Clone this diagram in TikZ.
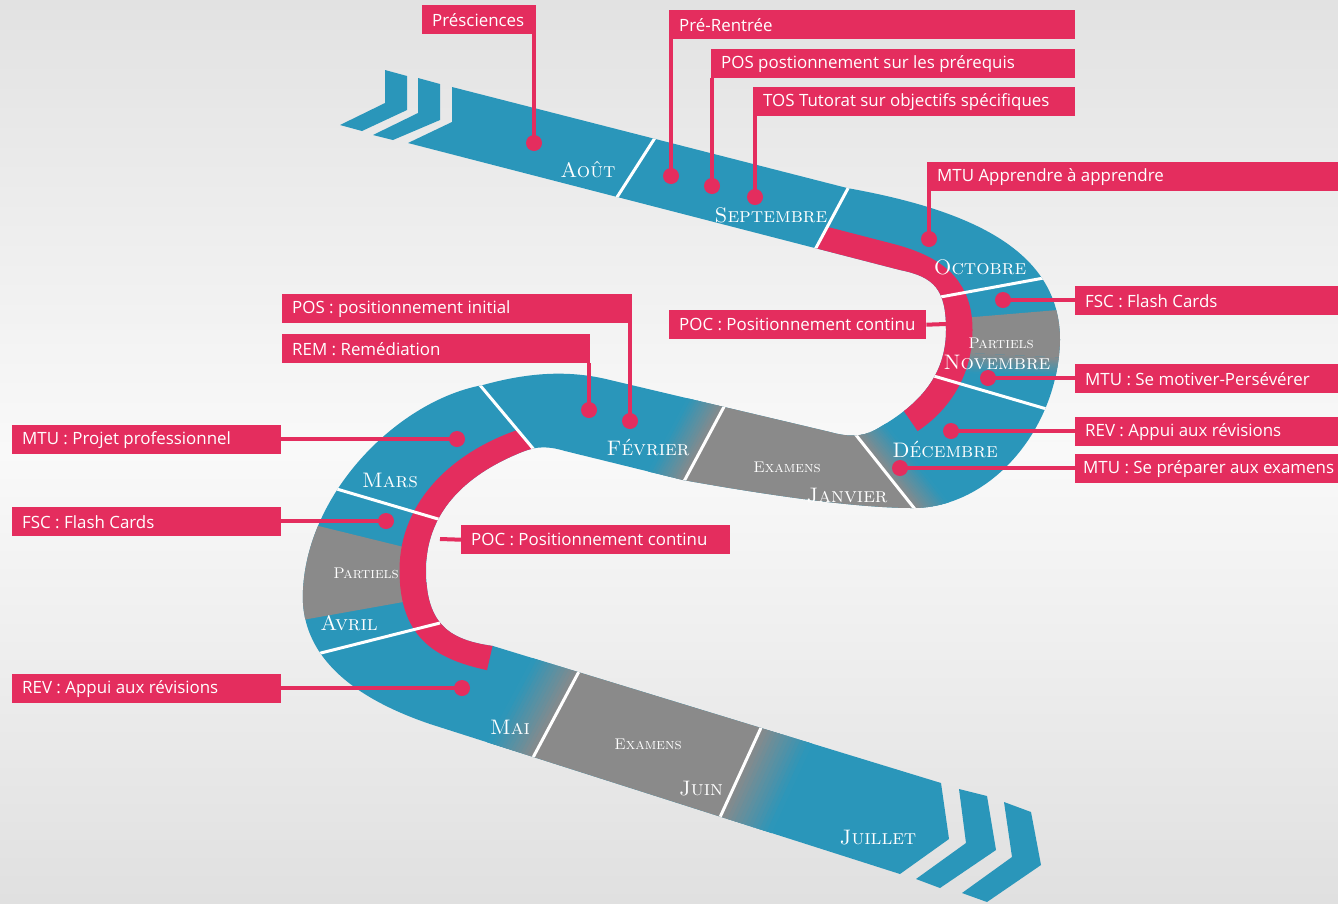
\documentclass[tikz,border=0pt]{standalone}
\usepackage{fontspec}
\newfontfamily\labelfont{Open Sans}
\definecolor{bluec}{RGB}{42,150,186}
\definecolor{pinkc}{RGB}{228,45,94}
\definecolor{greyc}{RGB}{138,138,138}
\definecolor{bgtop}{RGB}{226,226,226}
\definecolor{bgmid}{RGB}{249,249,249}
\definecolor{bgbot}{RGB}{224,224,224}
\newcommand\lbltext[2]{\makebox[#1pt][l]{#2}}
\newcommand\fadestrip[6]{%
  \foreach \i in {0,...,13}{%
    \pgfmathsetmacro\fa{\i/14}%
    \pgfmathsetmacro\fb{(\i+1.4)/14}%
    \pgfmathtruncatemacro\fc{100-(\i+0.5)*100/14}%
    \fill[greyc!\fc!bluec] ({#1+\fa*(#5)},{#2+\fa*(#6)}) -- ({#3+\fa*(#5)},{#4+\fa*(#6)}) -- ({#3+\fb*(#5)},{#4+\fb*(#6)}) -- ({#1+\fb*(#5)},{#2+\fb*(#6)}) -- cycle;
  }}
\def\roadpath{(452,87) -- (847,188) .. controls (970,210) and (1060,250) .. (1060,340) .. controls (1058,430) and (990,508) .. (913,508) .. controls (850,508) and (750,492) .. (683,480) -- (565,451) .. controls (548,446) and (537,446) .. (522,452) .. controls (462,476) and (426,515) .. (426,570) .. controls (426,625) and (450,640) .. (493,646) -- (941,783) -- (949,839) -- (900,874) -- (430,724) .. controls (330,690) and (300,640) .. (303,590) .. controls (308,490) and (400,400) .. (483,385) .. controls (530,372) and (570,370) .. (610,380) -- (830,432) .. controls (848,437) and (862,437) .. (875,430) .. controls (920,405) and (946,375) .. (946,330) .. controls (946,290) and (935,277) .. (900,270) -- (408,143) -- (452,122) -- cycle}
\begin{document}
\begin{tikzpicture}[x=1pt,y=-1pt,
  lbl/.style={fill=pinkc, text=white, font=\labelfont\fontsize{16.9}{19}\selectfont, anchor=north west, minimum height=29pt, inner xsep=10pt, inner ysep=0pt},
  conn/.style={pinkc, line width=4pt},
  pdot/.style={circle, fill=pinkc, minimum size=16pt, inner sep=0pt},
  mlabel/.style={text=white, font=\fontsize{21}{21}\selectfont\scshape, inner sep=0pt},
  slabel/.style={text=white, font=\fontsize{15.5}{15.5}\selectfont\scshape, inner sep=0pt},
  sepline/.style={white, line width=3pt},
  pinkband/.style={pinkc, line width=27pt}]
\useasboundingbox (0,0) rectangle (1338,903);
\shade[top color=bgtop, bottom color=bgbot, middle color=bgmid] (0,0) rectangle (1338,903);

% chevrons
\fill[bluec] (385,70) -- (407,76) -- (407,110) -- (362,131) -- (340,125) -- (385,103) -- cycle;
\fill[bluec] (418,78) -- (440,84) -- (440,120) -- (393,140) -- (373,135) -- (418,113) -- cycle;
\fill[bluec] (959,789) -- (987,796) -- (996,850) -- (940,888) -- (916,879) -- (966,843) -- cycle;
\fill[bluec] (1004,802) -- (1031,812) -- (1041,865) -- (987,902) -- (962,893) -- (1012,857) -- cycle;

% road
\fill[bluec] \roadpath;
\begin{scope}
  \clip \roadpath;
  % grey exam areas
  \fill[greyc] (726,403) -- (852,430) -- (918,513) -- (681,487) -- cycle;
  \fadestrip{726}{403}{681}{487}{-36}{-8}
  \fadestrip{852}{430}{918}{513}{32}{-8}
  \fill[greyc] (583,664) -- (765,719) -- (716,826) -- (529,765) -- cycle;
  \fadestrip{583}{664}{529}{765}{-45}{-14}
  \fadestrip{765}{719}{716}{826}{50}{16}
  \fill[greyc] (950,319) -- (1070,309) -- (1070,358) -- (950,352) -- cycle;
  \fadestrip{950}{352}{1070}{358}{0}{20}
  \fill[greyc] (290,519) -- (420,551) -- (420,599) -- (280,624) -- cycle;
  % pink bands
  \begin{scope}
    \clip (860,165) -- (1100,165) -- (1100,600) -- (800,600) -- (800,278) -- cycle;
    \draw[pinkband] (805,235) -- (890,257) .. controls (940,270) and (959,292) .. (959,330) .. controls (959,372) and (937,402) .. (910,420);
  \end{scope}
  \begin{scope}
    \clip (450,349) -- (570,493) -- (570,700) -- (200,700) -- (200,349) -- cycle;
    \draw[pinkband] (545,435) -- (527,441) .. controls (462,462) and (413,508) .. (413,570) .. controls (413,628) and (440,646) .. (490,657);
  \end{scope}
  % separators
  \draw[sepline] (660,130) -- (612,205);
  \draw[sepline] (853,179) -- (810,259);
  \draw[sepline] (935,298) -- (1060,275);
  \draw[sepline] (920,372) -- (1050,410);
  \draw[sepline] (726,403) -- (681,487);
  \draw[sepline] (852,430) -- (918,513);
  \draw[sepline] (474,378) -- (541,458);
  \draw[sepline] (330,487) -- (455,524);
  \draw[sepline] (305,657) -- (440,623);
  \draw[sepline] (583,664) -- (529,765);
  \draw[sepline] (765,719) -- (716,826);
\end{scope}

% month labels
\node[mlabel] (aout) at (588,170) {Août};
\node[mlabel] (sept) at (771,215) {Septembre};
\node[mlabel] (oct) at (980,267) {Octobre};
\node[slabel] (partR) at (1001,343) {Partiels};
\node[mlabel] (nov) at (997,362) {Novembre};
\node[mlabel] (dec) at (945,449) {Décembre};
\node[slabel] (examM) at (787,467) {Examens};
\node[mlabel] (janv) at (847,496) {Janvier};
\node[mlabel] (fev) at (648,447) {Février};
\node[mlabel] (mars) at (390,480) {Mars};
\node[slabel] (partL) at (366,573) {Partiels};
\node[mlabel] (avril) at (349,623) {Avril};
\node[mlabel] (mai) at (510,727) {Mai};
\node[slabel] (examB) at (648,744) {Examens};
\node[mlabel] (juin) at (701,789) {Juin};
\node[mlabel] (juil) at (878,838) {Juillet};

% label boxes
\node[lbl] (presc) at (422,5) {\lbltext{94}{Présciences}};
\node[lbl] (prerent) at (669,10) {\lbltext{386}{Pré-Rentrée}};
\node[lbl] (posprq) at (711,49) {\lbltext{344}{POS postionnement sur les prérequis}};
\node[lbl] (tos) at (753,87) {\lbltext{302}{TOS Tutorat sur objectifs spécifiques}};
\node[lbl] (mtuapp) at (927,162) {\lbltext{391}{MTU Apprendre à apprendre}};
\node[lbl] (fscR) at (1075,286) {\lbltext{243}{FSC : Flash Cards}};
\node[lbl] (pocR) at (669,310) {\lbltext{237}{POC : Positionnement continu}};
\node[lbl] (mtumot) at (1075,364) {\lbltext{243}{MTU : Se motiver-Persévérer}};
\node[lbl] (revR) at (1075,417) {\lbltext{243}{REV : Appui aux révisions}};
\node[lbl] (mtuprep) at (1075,454) {\lbltext{243}{\hspace*{-2pt}MTU : Se préparer aux examens}};
\node[lbl] (posini) at (282,294) {\lbltext{330}{POS : positionnement initial}};
\node[lbl] (rem) at (282,334) {\lbltext{288}{REM : Remédiation}};
\node[lbl] (mtupro) at (12,425) {\lbltext{249}{MTU : Projet professionnel}};
\node[lbl] (fscL) at (12,507) {\lbltext{249}{FSC : Flash Cards}};
\node[lbl] (pocL) at (461,525) {\lbltext{249}{POC : Positionnement continu}};
\node[lbl] (revL) at (12,674) {\lbltext{249}{REV : Appui aux révisions}};

% dots
\node[pdot] (d1) at (534,143) {};
\node[pdot] (d2) at (671,176) {};
\node[pdot] (d3) at (712,186) {};
\node[pdot] (d4) at (755,197) {};
\node[pdot] (d5) at (929,239) {};
\node[pdot] (d6) at (1003,300) {};
\node[pdot] (d8) at (988,378) {};
\node[pdot] (d9) at (951,431) {};
\node[pdot] (d10) at (900,468) {};
\node[pdot] (d11) at (630,421) {};
\node[pdot] (d12) at (589,410) {};
\node[pdot] (d13) at (457,439) {};
\node[pdot] (d14) at (386,521) {};
\node[pdot] (d16) at (462,688) {};
\coordinate (pocRc) at (946,324);
\coordinate (pocLc) at (440,539);

% connectors
\draw[conn] (d1 |- presc.south) -- (d1.center);
\draw[conn] (d2 |- prerent.south) -- (d2.center);
\draw[conn] (d3 |- posprq.south) -- (d3.center);
\draw[conn] (d4 |- tos.south) -- (d4.center);
\draw[conn] (d5 |- mtuapp.south) -- (d5.center);
\draw[conn] (d6.center) -- (d6 -| fscR.west);
\draw[conn] (pocR.east) -- (pocRc);
\draw[conn] (d8.center) -- (d8 -| mtumot.west);
\draw[conn] (d9.center) -- (d9 -| revR.west);
\draw[conn] (d10.center) -- (d10 -| mtuprep.west);
\draw[conn] (d11 |- posini.south) -- (d11.center);
\draw[conn] (d12 |- rem.south) -- (d12.center);
\draw[conn] (d13.center) -- (d13 -| mtupro.east);
\draw[conn] (d14.center) -- (d14 -| fscL.east);
\draw[conn] (pocLc) -- (pocL.west);
\draw[conn] (d16.center) -- (d16 -| revL.east);
\end{tikzpicture}
\end{document}
